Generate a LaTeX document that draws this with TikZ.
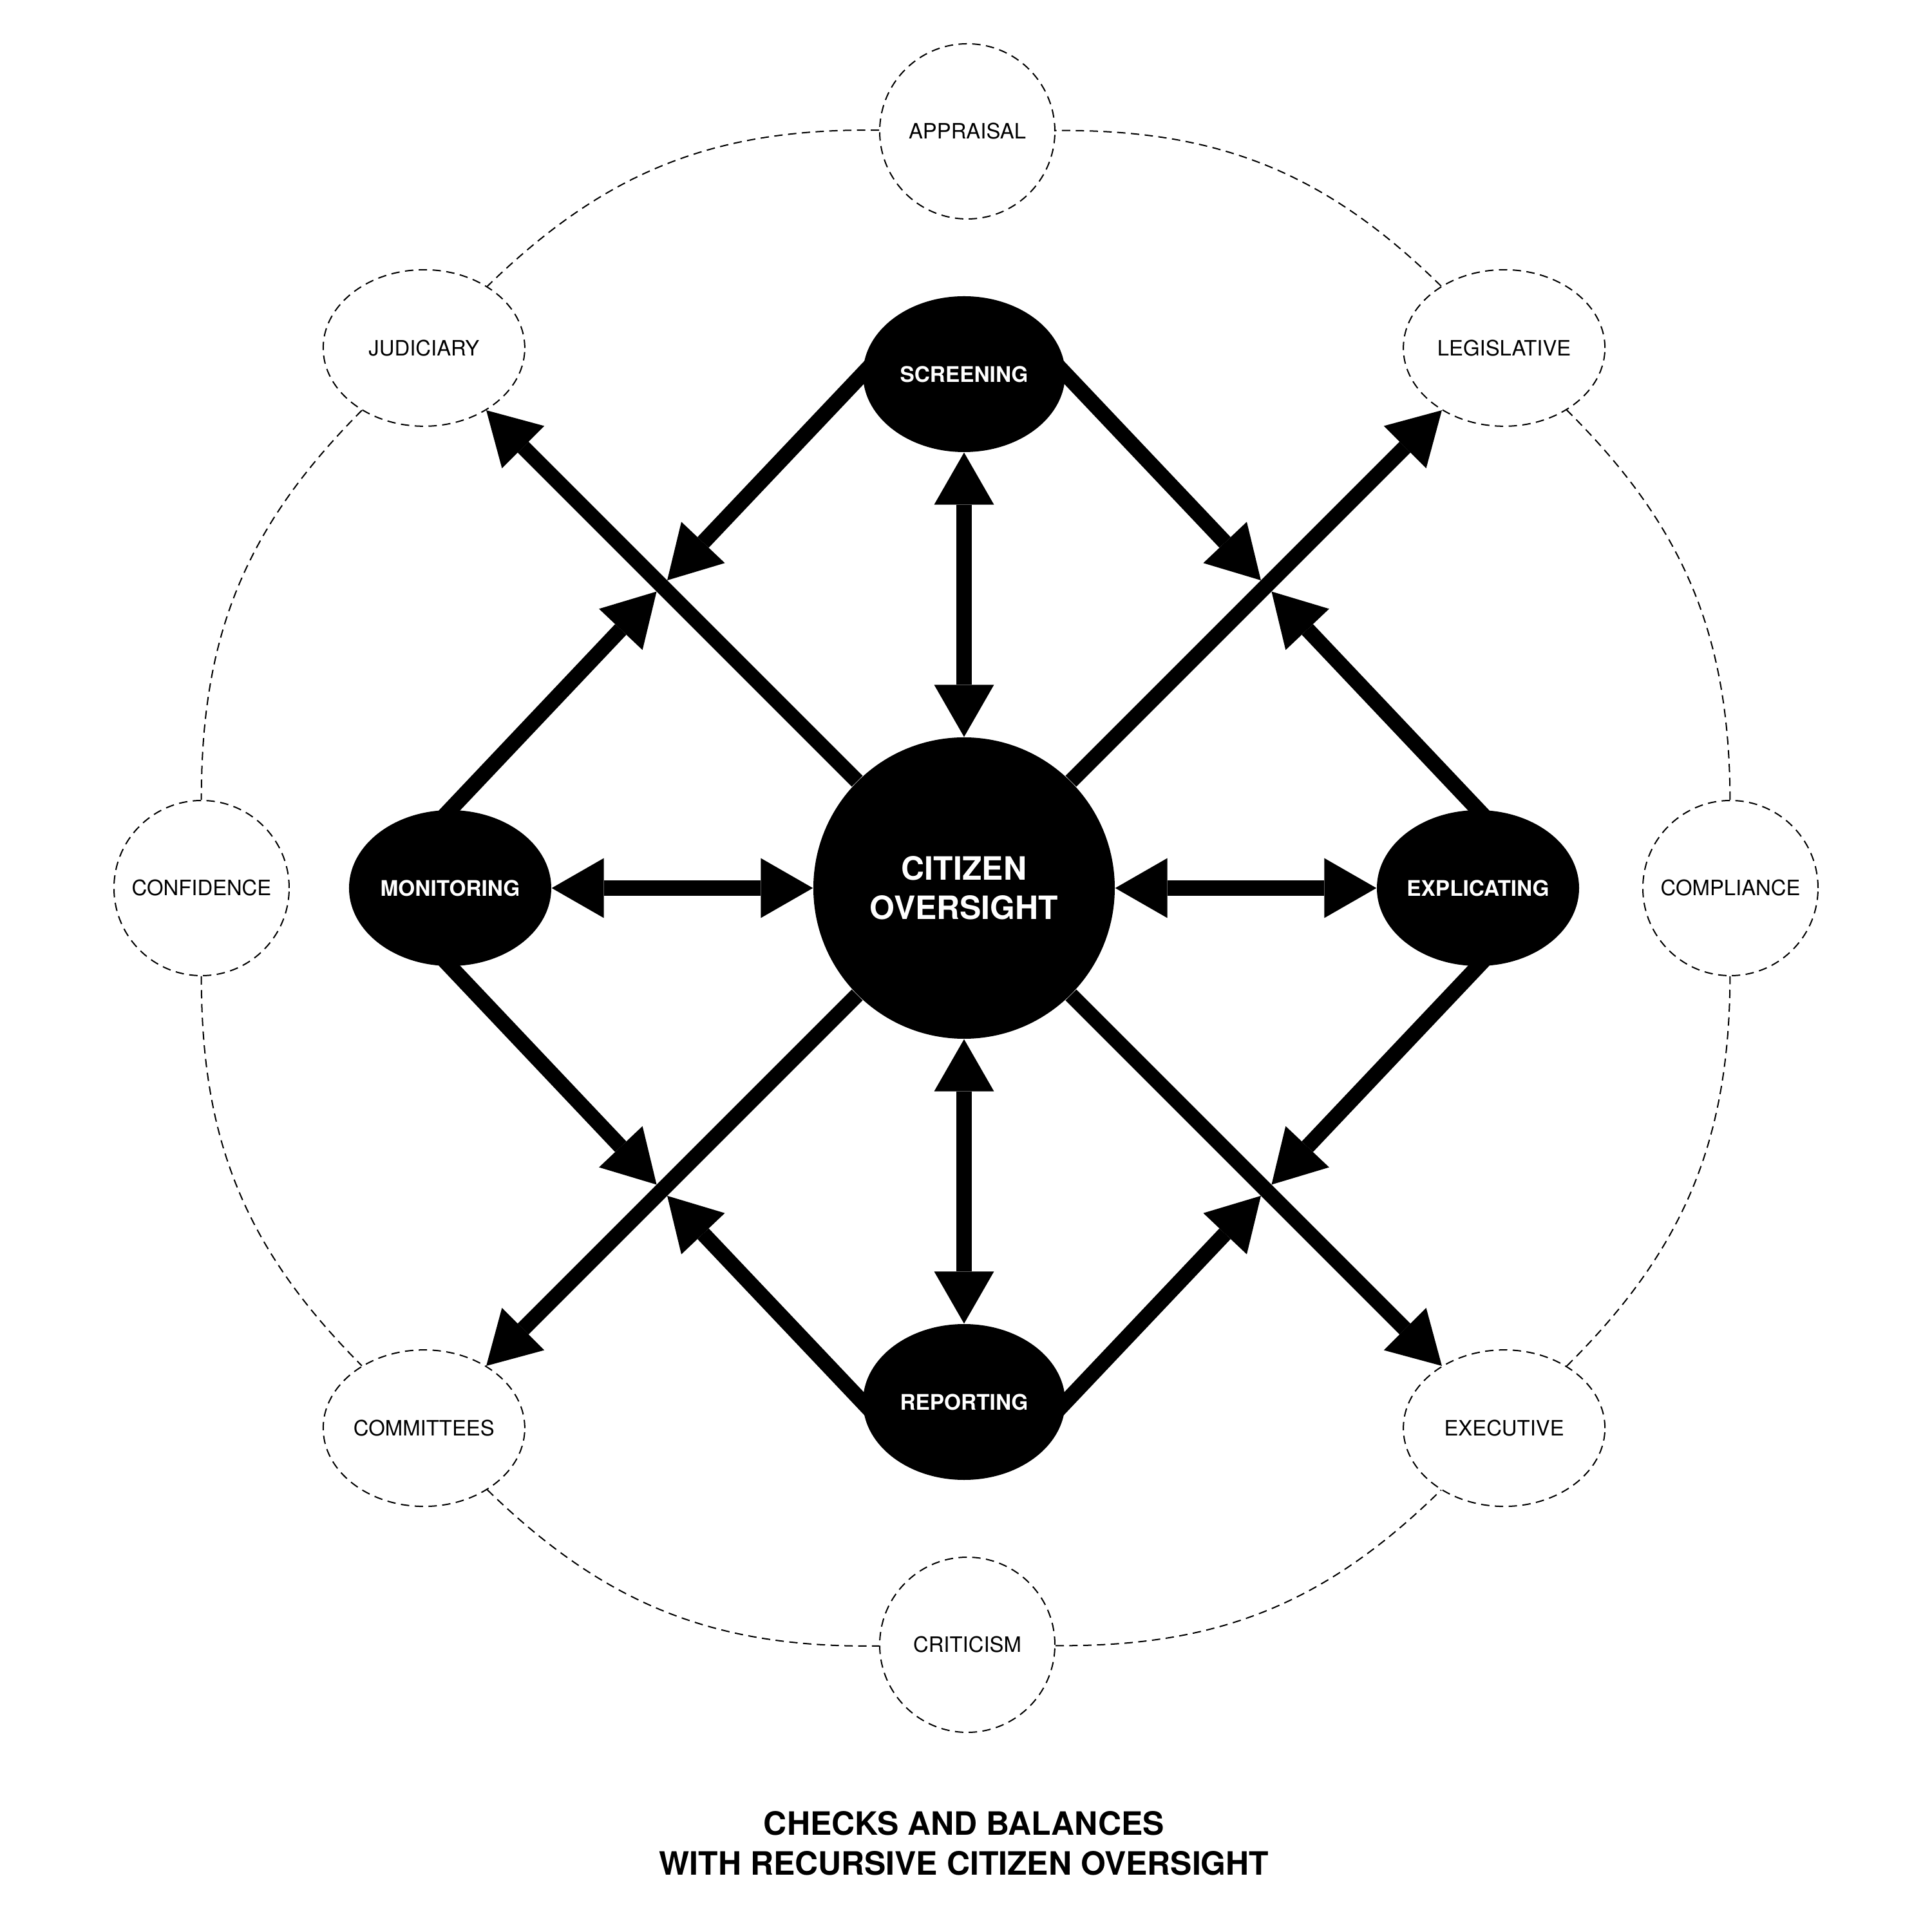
\documentclass[tikz,border=0pt]{standalone}
\usepackage{fontspec}
\setmainfont{TeX Gyre Heros}
\usepackage{tikz}
\usetikzlibrary{arrows.meta,shapes.geometric}

\begin{document}
\begin{tikzpicture}[
        hub/.style={circle, fill=black, text=white, minimum size=4.68cm, inner sep=0pt, align=center, font=\fontsize{14.2}{17.2}\selectfont\bfseries},
        stage/.style={ellipse, fill=black, text=white, minimum width=3.14cm, minimum height=2.42cm, inner sep=0pt, font=\fontsize{9.5}{11}\selectfont\bfseries},
        ring/.style={dash pattern=on 3.7pt off 2.4pt, line width=0.57pt},
        branch/.style={ring, draw, ellipse, minimum width=3.13cm, minimum height=2.43cm, inner sep=0pt, font=\fontsize{9.35}{11}\selectfont},
        value/.style={ring, draw, circle, minimum size=2.72cm, inner sep=0pt, font=\fontsize{9.35}{11}\selectfont},
        flow/.style={line width=0.24cm, -{Triangle[length=0.81cm, width=0.93cm, line width=0pt]}},
        both/.style={line width=0.24cm, {Triangle[length=0.81cm, width=0.93cm, line width=0pt]}-{Triangle[length=0.81cm, width=0.93cm, line width=0pt]}},
        feed/.style={flow, shorten <=-3mm, shorten >=0.12cm},
        heading/.style={align=center, font=\fontsize{14.2}{17.6}\selectfont\bfseries}
    ]
        \useasboundingbox (-14.97,-16.21) rectangle (15.03,13.79);

        % core of the diagram
        \node[hub] (citizen) at (0,0) {CITIZEN\\OVERSIGHT};
        \node[stage] (screening) at (90:7.98) {SCREENING};
        \node[stage] (explicating) at (0:7.98) {EXPLICATING};
        \node[stage] (reporting) at (270:7.98) {REPORTING};
        \node[stage] (monitoring) at (180:7.98) {MONITORING};

        % outer ring
        \node[value] (appraisal) at (0.05,11.75) {APPRAISAL};
        \node[branch] (judiciary) at (135:11.86) {JUDICIARY};
        \node[value] (confidence) at (180:11.84) {CONFIDENCE};
        \node[branch] (committees) at (225:11.86) {COMMITTEES};
        \node[value] (criticism) at (0.05,-11.75) {CRITICISM};
        \node[branch] (executive) at (315:11.86) {EXECUTIVE};
        \node[value] (compliance) at (11.9,0) {COMPLIANCE};
        \node[branch] (legislative) at (45:11.86) {LEGISLATIVE};

        \draw[ring] (appraisal) to[bend right=22.5] (judiciary);
        \draw[ring] (judiciary) to[bend right=22.5] (confidence);
        \draw[ring] (confidence) to[bend right=22.5] (committees);
        \draw[ring] (committees) to[bend right=22.5] (criticism);
        \draw[ring] (criticism) to[bend right=22.5] (executive);
        \draw[ring] (executive) to[bend right=22.5] (compliance);
        \draw[ring] (compliance) to[bend right=22.5] (legislative);
        \draw[ring] (legislative) to[bend right=22.5] (appraisal);

        % citizen oversight to the branches
        \draw[flow] (citizen) -- (judiciary);
        \draw[flow] (citizen) -- (legislative);
        \draw[flow] (citizen) -- (committees);
        \draw[flow] (citizen) -- (executive);

        % citizen oversight and the four stages
        \draw[both] (screening) -- (citizen);
        \draw[both] (reporting) -- (citizen);
        \draw[both] (monitoring) -- (citizen);
        \draw[both] (explicating) -- (citizen);

        % stages feeding the branch lines
        \coordinate (toJudiciary) at (intersection of screening.west--monitoring.north and citizen.center--judiciary.center);
        \coordinate (toLegislative) at (intersection of screening.east--explicating.north and citizen.center--legislative.center);
        \coordinate (toCommittees) at (intersection of monitoring.south--reporting.west and citizen.center--committees.center);
        \coordinate (toExecutive) at (intersection of explicating.south--reporting.east and citizen.center--executive.center);

        \draw[feed] (screening.west) -- (toJudiciary);
        \draw[feed] (monitoring.north) -- (toJudiciary);
        \draw[feed] (screening.east) -- (toLegislative);
        \draw[feed] (explicating.north) -- (toLegislative);
        \draw[feed] (monitoring.south) -- (toCommittees);
        \draw[feed] (reporting.west) -- (toCommittees);
        \draw[feed] (explicating.south) -- (toExecutive);
        \draw[feed] (reporting.east) -- (toExecutive);

        \node[heading] (caption) at (0,-14.83) {CHECKS AND BALANCES\\WITH RECURSIVE CITIZEN OVERSIGHT};
    \end{tikzpicture}
\end{document}
